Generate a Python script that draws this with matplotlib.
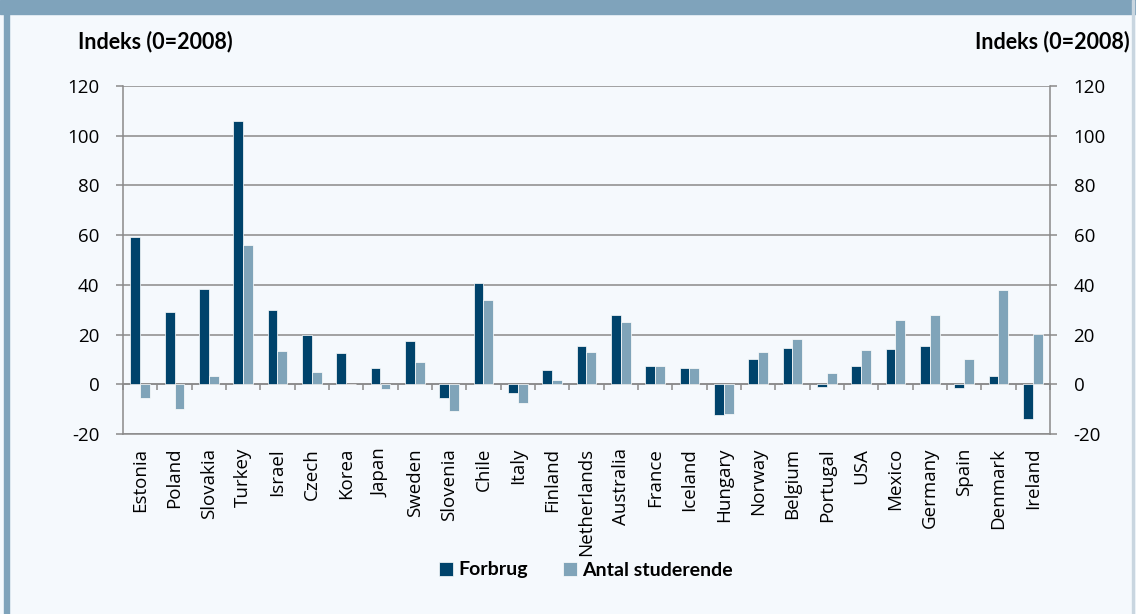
import matplotlib
matplotlib.use("Agg")
import matplotlib.pyplot as plt
from matplotlib.patches import Rectangle
import numpy as np

countries = ["Estonia", "Poland", "Slovakia", "Turkey", "Israel", "Czech", "Korea",
             "Japan", "Sweden", "Slovenia", "Chile", "Italy", "Finland", "Netherlands",
             "Australia", "France", "Iceland", "Hungary", "Norway", "Belgium", "Portugal",
             "USA", "Mexico", "Germany", "Spain", "Denmark", "Ireland"]
forbrug = [59.1, 29.1, 38.3, 105.8, 29.9, 19.8, 12.5, 6.6, 17.3, -5.4, 40.9, -3.6, 5.9,
           15.4, 27.7, 7.5, 6.7, -12.2, 10.2, 14.6, -0.9, 7.4, 14.1, 15.5, -1.3, 3.2, -13.8]
studerende = [-5.6, -9.9, 3.2, 56.2, 13.3, 4.9, 0.0, -1.8, 9.0, -10.6, 33.8, -7.4, 1.9,
              12.9, 24.9, 7.4, 6.7, -11.8, 13.0, 18.1, 4.5, 13.9, 25.9, 27.9, 10.2, 37.8, 20.2]
yticks = [-20, 0, 20, 40, 60, 80, 100, 120]
series_names = ["Forbrug", "Antal studerende"]
axis_label = "Indeks (0=2008)"

DARK = "#00436b"
LIGHT = "#80a4b9"
GRAY = "#8a8a8a"
BG = "#f5f9fd"
FRAME = "#7fa3bb"

plt.rcParams["font.family"] = ["Open Sans", "DejaVu Sans"]

fig = plt.figure(figsize=(11.36, 6.14), dpi=100, facecolor=BG)
ax = fig.add_axes([123/1136, 1-434/614, (1050-123)/1136, (434-86)/614], facecolor=BG)

x = np.arange(len(countries))
w = 0.29
b1 = ax.bar(x - w/2, forbrug, w, color=DARK, edgecolor="white", linewidth=0.5, zorder=3)
b2 = ax.bar(x + w/2, studerende, w, color=LIGHT, edgecolor="white", linewidth=0.5, zorder=3)

ylo, yhi = -20, 120
ax.set_ylim(ylo, yhi)
ax.set_xlim(-0.5, len(countries) - 0.5)
ax.set_yticks(yticks)
ax.set_yticklabels([str(v) for v in yticks])
ax.yaxis.grid(True, color=GRAY, linewidth=1.1, zorder=1)
ax.set_axisbelow(True)

for s in ["left", "right", "bottom"]:
    ax.spines[s].set_color(GRAY)
    ax.spines[s].set_linewidth(1.1)
ax.spines["top"].set_visible(False)

ax.tick_params(axis="y", which="both", left=True, right=True, labelleft=True, labelright=True,
               length=5, width=1.1, color=GRAY, labelsize=13.5, pad=12)
ax.set_xticks(x)
ax.set_xticklabels(countries, rotation=90, fontsize=13.5)
ax.tick_params(axis="x", length=0, pad=10)

# zero line with category boundary ticks
sec = ax.secondary_xaxis((0 - ylo) / (yhi - ylo))
sec.set_xticks(np.arange(-0.5, len(countries), 1.0))
sec.set_xticklabels([])
sec.tick_params(axis="x", direction="out", length=4, width=1.1, color=GRAY)
sec.spines["bottom"].set_color(GRAY)
sec.spines["bottom"].set_linewidth(1.1)

# axis titles
fig.text(78/1136, 1-42/614, axis_label, fontsize=15.5, fontweight="bold",
         family=["Lato", "DejaVu Sans"], va="center", ha="left")
fig.text(1130/1136, 1-42/614, axis_label, fontsize=15.5, fontweight="bold",
         family=["Lato", "DejaVu Sans"], va="center", ha="right")

leg = fig.legend([b1, b2], series_names, loc="center", bbox_to_anchor=(586/1136, 1-570/614),
                 ncol=2, frameon=False, prop={"family": ["Lato", "DejaVu Sans"], "weight": "bold", "size": 14},
                 handlelength=0.7, handleheight=0.7, handletextpad=0.3, columnspacing=1.8)

# frame decorations
fig.patches.append(Rectangle((0, 1-14/614), 1, 14/614, transform=fig.transFigure,
                             color=FRAME, zorder=0))
fig.patches.append(Rectangle((4/1136, 0), 4.5/1136, 1, transform=fig.transFigure,
                             color=FRAME, zorder=0))
fig.patches.append(Rectangle((1132/1136, 0), 1.5/1136, 1, transform=fig.transFigure,
                             color="#c9d6e0", zorder=0))

fig.savefig("out.png", dpi=100, facecolor=BG)
